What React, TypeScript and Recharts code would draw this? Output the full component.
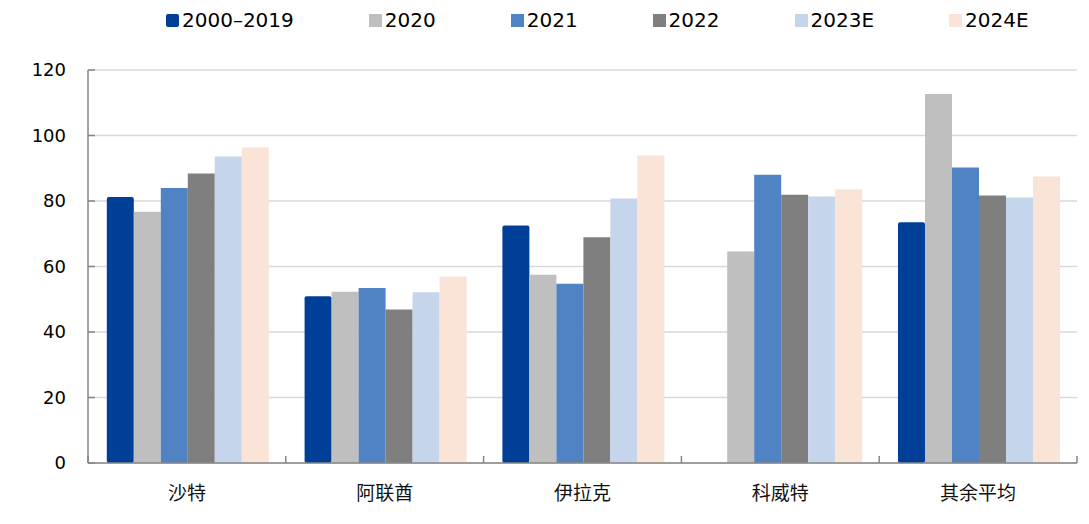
import React from 'react';
import { BarChart, Bar, XAxis, YAxis, CartesianGrid, Legend } from 'recharts';

const categories = ['沙特', '阿联酋', '伊拉克', '科威特', '其余平均'];
const seriesNames = ['2000–2019', '2020', '2021', '2022', '2023E', '2024E'];
const seriesColors = ['#003F98', '#BFBFBF', '#4F83C3', '#7F7F7F', '#C4D5EC', '#FAE4D7'];

const v2000_2019 = [81.2, 50.9, 72.5, null, 73.5];
const v2020 = [76.7, 52.3, 57.5, 64.6, 112.7];
const v2021 = [84.0, 53.4, 54.7, 88.0, 90.2];
const v2022 = [88.4, 46.9, 68.9, 81.9, 81.7];
const v2023E = [93.6, 52.1, 80.8, 81.4, 81.1];
const v2024E = [96.3, 56.9, 93.9, 83.6, 87.5];

const yTicks = [0, 20, 40, 60, 80, 100, 120];

const seriesValues = [v2000_2019, v2020, v2021, v2022, v2023E, v2024E];
const data = categories.map((name, i) => {
  const row: Record<string, any> = { name };
  seriesNames.forEach((s, k) => {
    row[s] = seriesValues[k][i];
  });
  return row;
});

const AXIS_COLOR = '#868686';
const X_TICK_MARGIN = 22;
const X_TICK_LEN = 7;

const LegendContent = (props: any) => {
  const { payload } = props;
  return (
    <div style={{ display: 'flex', alignItems: 'center', fontFamily: 'DejaVu Sans', fontSize: 20, lineHeight: '24px', color: '#000', whiteSpace: 'nowrap' }}>
      {(payload || []).map((p: any, i: number) => (
        <div key={i} style={{ display: 'flex', alignItems: 'center', marginRight: 75 }}>
          <span style={{ display: 'inline-block', width: 13, height: 13, background: p.color, marginRight: 3, borderRadius: i === 0 ? 2 : 0 }} />
          <span>{p.value}</span>
        </div>
      ))}
    </div>
  );
};

const CategoryTick = (props: any) => {
  const { x, y, payload, index, visibleTicksCount } = props;
  const off = payload && typeof payload.offset === 'number' ? payload.offset : 0;
  const axisY = y - X_TICK_MARGIN;
  const isLast = index === visibleTicksCount - 1;
  return (
    <g>
      {off > 0 && (
        <line x1={x - off} x2={x - off} y1={axisY} y2={axisY - X_TICK_LEN} stroke={AXIS_COLOR} strokeWidth={1.5} />
      )}
      {off > 0 && isLast && (
        <line x1={x + off} x2={x + off} y1={axisY} y2={axisY - X_TICK_LEN} stroke={AXIS_COLOR} strokeWidth={1.5} />
      )}
      <text x={x} y={y} dy="0.8em" textAnchor="middle" fontFamily="Noto Sans CJK SC" fontSize={19} fill="#111">
        {payload.value}
      </text>
    </g>
  );
};

export default function App() {
  return (
    <div style={{ position: 'absolute', left: 0, top: 0, width: 1089, height: 524, background: '#fff' }}>
      <BarChart
        width={1089}
        height={524}
        data={data}
        margin={{ top: 70, right: 12, bottom: 31, left: 28 }}
        barCategoryGap="9.5%"
        barGap={0}
      >
        <CartesianGrid vertical={false} stroke="#D9D9D9" strokeWidth={1.5} />
        <XAxis
          dataKey="name"
          axisLine={{ stroke: AXIS_COLOR, strokeWidth: 1.5 }}
          tickLine={false}
          tickSize={0}
          tickMargin={X_TICK_MARGIN}
          height={30}
          interval={0}
          tick={<CategoryTick />}
        />
        <YAxis
          domain={[0, 120]}
          ticks={yTicks}
          width={60}
          axisLine={{ stroke: AXIS_COLOR, strokeWidth: 1.5 }}
          tickLine={{ stroke: AXIS_COLOR, strokeWidth: 1.5 }}
          tickSize={-7}
          tickMargin={29}
          tick={{ fontFamily: 'DejaVu Sans', fontSize: 18, fill: '#000' }}
        />
        <Legend
          layout="horizontal"
          verticalAlign="middle"
          align="center"
          content={<LegendContent />}
          wrapperStyle={{ top: 8, left: 166, width: 'auto' }}
        />
        {seriesNames.map((s, k) => (
          <Bar
            key={s}
            dataKey={s}
            fill={seriesColors[k]}
            isAnimationActive={false}
            radius={k === 0 ? 2 : 0}
          />
        ))}
      </BarChart>
    </div>
  );
}
